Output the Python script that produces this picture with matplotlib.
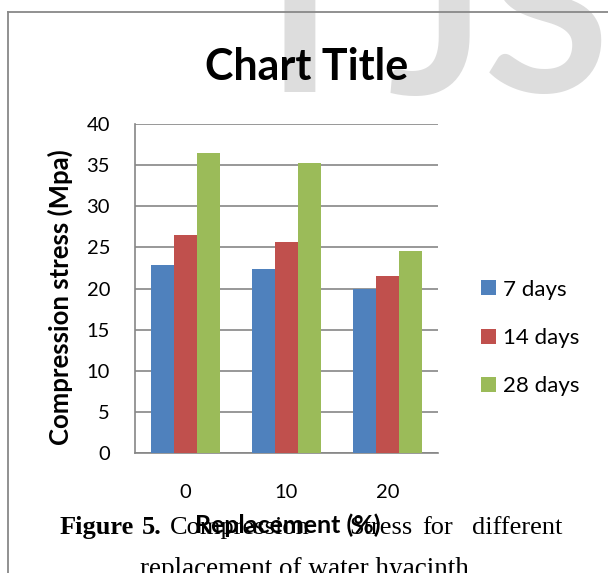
import numpy as np
import matplotlib
matplotlib.use("Agg")
import matplotlib.pyplot as plt
from matplotlib.lines import Line2D

# data
replacement = ["0", "10", "20"]
series_labels = ["7 days", "14 days", "28 days"]
stress_7 = [22.8, 22.4, 19.9]
stress_14 = [26.5, 25.7, 21.5]
stress_28 = [36.5, 35.2, 24.6]
y_ticks = [0, 5, 10, 15, 20, 25, 30, 35, 40]

colors = ["#4F81BD", "#C0504D", "#9BBB59"]
grid_col = "#868686"

plt.rcParams["font.family"] = ["Lato", "DejaVu Sans"]

W, H = 608, 573
fig = plt.figure(figsize=(W / 100, H / 100), dpi=100)


def fx(px):
    return px / W


def fy(py):
    return 1 - py / H


# light watermark letters behind the title
wm = dict(fontsize=165, fontweight="bold", color="#dddddd", va="baseline", zorder=0)
fig.text(fx(299), fy(92), "I", ha="center", **wm)
fig.text(fx(486), fy(94), "J", ha="right", **wm)
fig.text(fx(484), fy(92), "S", ha="left", **wm)

# page frame
fig.add_artist(Line2D([fx(8), 1], [fy(12), fy(12)], color="#888888", lw=1.3))
fig.add_artist(Line2D([fx(8), fx(8)], [fy(12), 0], color="#888888", lw=1.3))

ax = fig.add_axes([fx(135), fy(453), fx(438) - fx(135), (453 - 124) / H])
ax.set_facecolor("none")

x = np.arange(len(replacement))
w = 0.227
for i, (vals, lab) in enumerate(zip([stress_7, stress_14, stress_28], series_labels)):
    ax.bar(x + (i - 1) * w, vals, width=w, color=colors[i], label=lab, zorder=3)

ax.set_xlim(-0.5, 2.5)
ax.set_ylim(0, 40)
ax.set_yticks(y_ticks)
ax.set_xticks(x)
ax.set_xticklabels(replacement)
ax.yaxis.grid(True, color=grid_col, lw=1.2, zorder=0)
ax.set_axisbelow(True)
for s in ["top", "right"]:
    ax.spines[s].set_visible(False)
for s in ["left", "bottom"]:
    ax.spines[s].set_color(grid_col)
    ax.spines[s].set_linewidth(1.2)
ax.tick_params(axis="both", length=0, labelsize=14.5)
ax.tick_params(axis="y", pad=18)
ax.tick_params(axis="x", pad=22)

ax.set_ylabel("Compression stress (Mpa)", fontsize=18.5, fontweight="bold")
ax.yaxis.set_label_coords(-0.205, 0.474)
ax.set_xlabel("Replacement (%)", fontsize=18, fontweight="bold", va="baseline")
ax.xaxis.set_label_coords(0.505, -0.243)

fig.text(fx(307), fy(80), "Chart Title", ha="center", va="baseline",
         fontsize=31, fontweight="bold")

ax.legend(loc="center left", bbox_to_anchor=(fx(481), fy(338)),
          bbox_transform=fig.transFigure, frameon=False, fontsize=16,
          handlelength=0.68, handleheight=0.68, handletextpad=0.32,
          labelspacing=1.28, borderpad=0, borderaxespad=0)

# caption text of the page (serif, justified)
cap = dict(family=["Liberation Serif", "DejaVu Serif"], fontsize=19, va="baseline")
fig.text(fx(60), fy(534), "Figure", ha="left", fontweight="bold", **cap)
fig.text(fx(142), fy(534), "5.", ha="left", fontweight="bold", **cap)
fig.text(fx(170), fy(534), "Compression", ha="left", **cap)
fig.text(fx(412), fy(534), "Stress", ha="right", **cap)
fig.text(fx(422), fy(534), "for", ha="left", **cap)
fig.text(fx(562), fy(534), "different", ha="right", **cap)
fig.text(fx(304), fy(576), "replacement of water hyacinth", ha="center",
         fontsize=19.5, family=cap["family"], va="baseline")

fig.savefig("out.png", dpi=100)
